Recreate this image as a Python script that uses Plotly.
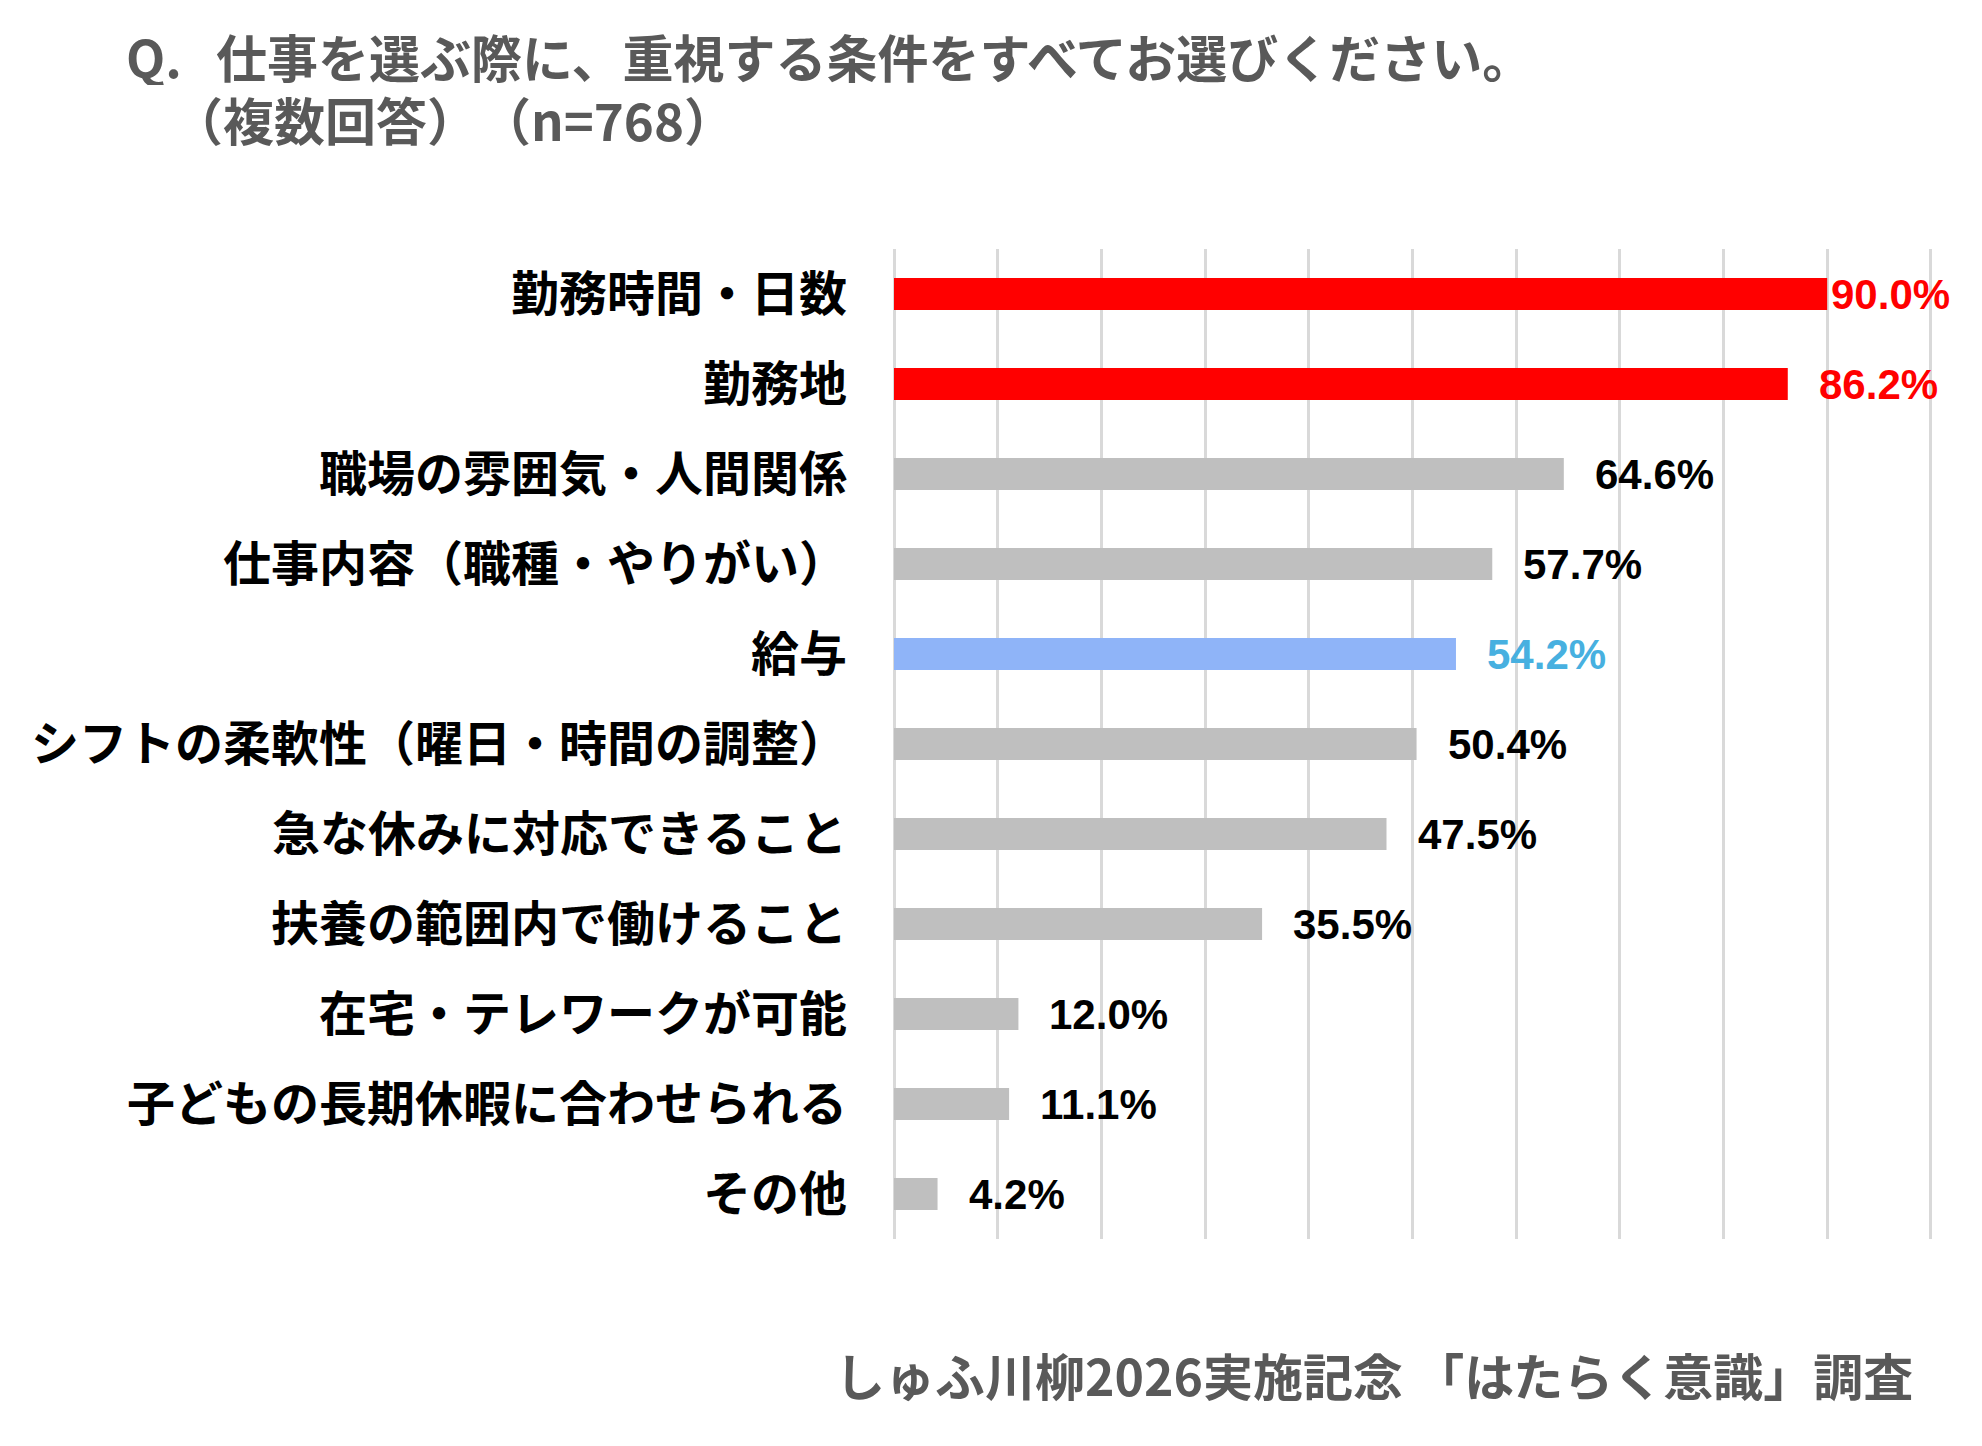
import plotly.graph_objects as go

categories = [
    "勤務時間・日数",
    "勤務地",
    "職場の雰囲気・人間関係",
    "仕事内容（職種・やりがい）",
    "給与",
    "シフトの柔軟性（曜日・時間の調整）",
    "急な休みに対応できること",
    "扶養の範囲内で働けること",
    "在宅・テレワークが可能",
    "子どもの長期休暇に合わせられる",
    "その他",
]
values = [90.0, 86.2, 64.6, 57.7, 54.2, 50.4, 47.5, 35.5, 12.0, 11.1, 4.2]
bar_colors = ["#FF0000", "#FF0000", "#BFBFBF", "#BFBFBF", "#8FB4F8", "#BFBFBF",
              "#BFBFBF", "#BFBFBF", "#BFBFBF", "#BFBFBF", "#BFBFBF"]
label_colors = ["#FF0000", "#FF0000", "#000000", "#000000", "#47B0E0", "#000000",
                "#000000", "#000000", "#000000", "#000000", "#000000"]
title_line1_q = "Q."
title_line1 = "仕事を選ぶ際に、重視する条件をすべてお選びください。"
title_line2a = "（複数回答）"
title_line2b = "（n=768）"
footer = "しゅふ川柳2026実施記念 「はたらく意識」調査"

# page has an 8px body margin; figure sized/offset to compensate
WIDTH, HEIGHT = 1966, 1430
L, R, T, B = 886, 39, 241, 199
PW = WIDTH - L - R
PH = HEIGHT - T - B


def px_x(px):
    return (px - L) / PW


def px_y(py):
    return 1 - (py - T) / PH


JP = "Noto Sans CJK JP"
NUM = "Liberation Sans"
GRAY = "#595959"

fig = go.Figure(
    go.Bar(
        x=values,
        y=categories,
        orientation="h",
        marker=dict(color=bar_colors, line=dict(width=0)),
        hoverinfo="skip",
    )
)

annotations = []
vmax = max(values)
for cat, v, c in zip(categories, values, label_colors):
    annotations.append(dict(
        x=v, y=cat, xref="x", yref="y", text=f"{v:.1f}%",
        showarrow=False, xanchor="left", yanchor="middle",
        xshift=2 if v == vmax else 29,
        font=dict(family=NUM, size=42, color=c, weight="bold"),
    ))

title_font = dict(family=JP, size=51, color=GRAY, weight="bold")
annotations += [
    dict(x=px_x(116), y=px_y(48), xref="paper", yref="paper", text=title_line1_q,
         showarrow=False, xanchor="left", yanchor="middle", font=title_font, height=58),
    dict(x=px_x(206), y=px_y(48), xref="paper", yref="paper", text=title_line1,
         showarrow=False, xanchor="left", yanchor="middle", font=title_font, height=58),
    dict(x=px_x(162), y=px_y(111), xref="paper", yref="paper", text=title_line2a,
         showarrow=False, xanchor="left", yanchor="middle", font=title_font, height=58),
    dict(x=px_x(470), y=px_y(111), xref="paper", yref="paper", text=title_line2b,
         showarrow=False, xanchor="left", yanchor="middle", font=title_font, height=58),
    dict(x=px_x(1907), y=px_y(1366), xref="paper", yref="paper", text=footer,
         showarrow=False, xanchor="right", yanchor="middle",
         font=dict(family=JP, size=50, color=GRAY, weight="bold")),
]

fig.update_layout(
    width=WIDTH, height=HEIGHT,
    margin=dict(l=L, r=R, t=T, b=B, autoexpand=False),
    paper_bgcolor="white", plot_bgcolor="white",
    bargap=0.644,
    showlegend=False,
    annotations=annotations,
    xaxis=dict(
        range=[0, 100.4], dtick=10, tick0=0, showticklabels=False,
        showgrid=True, gridcolor="#D9D9D9", gridwidth=3,
        zeroline=True, zerolinecolor="#D9D9D9", zerolinewidth=3,
        showline=False, fixedrange=True,
    ),
    yaxis=dict(
        autorange="reversed", showgrid=False, zeroline=False, showline=False,
        ticks="", ticklabelstandoff=46,
        tickfont=dict(family=JP, size=48, color="#000000", weight="bold"),
        fixedrange=True,
    ),
)

fig.write_html("out.html")
